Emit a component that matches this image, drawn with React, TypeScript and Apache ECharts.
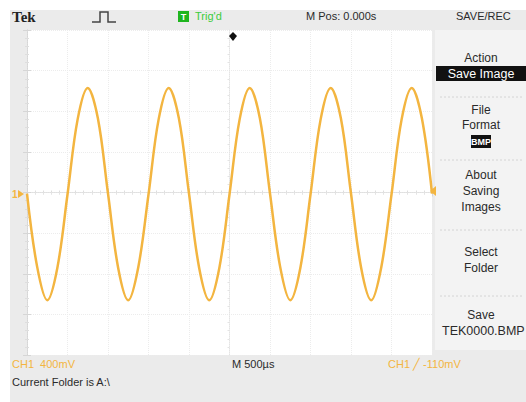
import React, { useEffect, useRef } from "react";
import * as echarts from "echarts";

// time in ms, 0.125 ms steps over 10 divisions of 500 µs
const timeMs: number[] = Array.from({ length: 41 }, (_, i) => i * 0.125);
// CH1 voltage (V)
const ch1Volts: number[] = [
  -0.01, -0.73, -1.06, -0.74, -0.02, 0.72, 1.03, 0.73,
  -0.01, -0.74, -1.06, -0.73, -0.02, 0.72, 1.03, 0.73,
  -0.01, -0.74, -1.06, -0.74, -0.02, 0.72, 1.03, 0.73,
  -0.01, -0.73, -1.06, -0.74, -0.02, 0.72, 1.03, 0.73,
  -0.01, -0.74, -1.06, -0.73, -0.02, 0.72, 1.03, 0.73,
  -0.01,
];
const menuItems: string[][] = [
  ["Action"],
  ["File", "Format"],
  ["About", "Saving", "Images"],
  ["Select", "Folder"],
  ["Save"],
];

const ORANGE = "#f3b540";
const FONT = "'Liberation Sans', Arial, sans-serif";

export default function App() {
  const ref = useRef<HTMLDivElement>(null);
  useEffect(() => {
    document.body.style.margin = "0";
    const chart = echarts.init(ref.current!, null, { renderer: "svg" });
    const txt = (x: number, y: number, text: string, extra: any = {}) => ({
      type: "text",
      x,
      y,
      z: 5,
      style: {
        text,
        fill: "#2a2a2a",
        font: `11px ${FONT}`,
        textVerticalAlign: "middle",
        ...extra,
      },
    });
    const menuY: number[][] = [[58], [110, 125], [175, 191, 207], [252, 268], [315]];
    const menuGraphics: any[] = [];
    menuItems.forEach((lines, i) =>
      lines.forEach((l, j) =>
        menuGraphics.push(
          txt(481, menuY[i][j], l, { textAlign: "center", font: `12px ${FONT}` })
        )
      )
    );
    const axisCommon = {
      type: "value",
      axisLabel: { show: false },
      splitLine: { show: false },
    };
    const xBase = { ...axisCommon, min: 0, max: 5, interval: 0.5 };
    const yBase = { ...axisCommon, min: -1.6, max: 1.6, interval: 0.4 };
    const tickStyle = {
      axisLine: { show: true, lineStyle: { color: "#d6d6d6", type: "dotted", width: 1 } },
      axisTick: { show: true, inside: true, length: 4, lineStyle: { color: "#d6d6d6" } },
      minorTick: { show: true, splitNumber: 5, length: 2, lineStyle: { color: "#dedede" } },
    };
    const centerLine = {
      show: true,
      onZero: false,
      lineStyle: { color: "#e4e4e4", type: "dotted" },
    };
    chart.setOption({
      animation: false,
      grid: { left: 27, top: 30, width: 405, height: 325, show: false },
      xAxis: [
        {
          ...xBase,
          position: "bottom",
          ...tickStyle,
          splitLine: { show: true, lineStyle: { color: "#ececec", type: "dotted" } },
        },
        { ...xBase, position: "top", ...tickStyle },
        {
          ...xBase,
          position: "bottom",
          offset: -162.5,
          ...tickStyle,
          axisTick: { show: false },
          minorTick: { show: true, splitNumber: 5, length: 2, lineStyle: { color: "#e4e4e4" } },
          axisLine: centerLine,
        },
      ],
      yAxis: [
        {
          ...yBase,
          position: "left",
          ...tickStyle,
          splitLine: { show: true, lineStyle: { color: "#ececec", type: "dotted" } },
        },
        { ...yBase, position: "right", ...tickStyle },
        {
          ...yBase,
          position: "left",
          offset: -202.5,
          ...tickStyle,
          axisTick: { show: false },
          minorTick: { show: true, splitNumber: 5, length: 2, lineStyle: { color: "#e4e4e4" } },
          axisLine: centerLine,
        },
      ],
      series: [
        {
          type: "line",
          xAxisIndex: 0,
          yAxisIndex: 0,
          data: timeMs.map((t, i) => [t, ch1Volts[i]]),
          smooth: 0.35,
          showSymbol: false,
          lineStyle: { color: ORANGE, width: 2.5 },
          z: 5,
        },
      ],
      graphic: [
        { type: "rect", z: -20, shape: { x: 10, y: 10, width: 516, height: 392 }, style: { fill: "#ebebeb" } },
        { type: "rect", z: -15, shape: { x: 27, y: 30, width: 405, height: 325 }, style: { fill: "#ffffff" } },
        { type: "rect", z: -15, shape: { x: 435, y: 30, width: 91, height: 320 }, style: { fill: "#f3f3f3" } },
        ...[97, 160, 230, 296].map((y) => ({
          type: "line",
          z: -10,
          shape: { x1: 440, y1: y, x2: 524, y2: y },
          style: { stroke: "#d4d4d4", lineWidth: 1, lineDash: [2, 2] },
        })),
        // header
        txt(12, 17, "Tek", { font: `bold 15px 'Liberation Serif', serif`, fill: "#222" }),
        {
          type: "polyline",
          z: 5,
          shape: { points: [[92, 22], [100, 22], [100, 12], [108, 12], [108, 22], [116, 22]] },
          style: { stroke: "#444", lineWidth: 1.5, fill: null },
        },
        { type: "rect", z: 5, shape: { x: 178, y: 11, width: 11, height: 11 }, style: { fill: "#1fb51f" } },
        txt(183.5, 16.5, "T", { fill: "#fff", font: `bold 9px ${FONT}`, textAlign: "center" }),
        txt(195, 16, "Trig'd", { fill: "#3bcc3b" }),
        txt(306, 16, "M Pos: 0.000s"),
        txt(456, 16, "SAVE/REC"),
        // trigger position marker
        {
          type: "polygon",
          z: 6,
          shape: { points: [[229, 36], [233, 32], [237, 36], [233, 41]] },
          style: { fill: "#111" },
        },
        // right menu
        ...menuGraphics,
        { type: "rect", z: 4, shape: { x: 436, y: 66, width: 90, height: 15 }, style: { fill: "#111" } },
        txt(481, 73.5, "Save Image", { fill: "#fff", textAlign: "center", font: `12.5px ${FONT}` }),
        { type: "rect", z: 4, shape: { x: 471, y: 135, width: 20, height: 13 }, style: { fill: "#111" } },
        txt(481, 141.5, "BMP", { fill: "#fff", textAlign: "center", font: `bold 9px ${FONT}` }),
        txt(442, 331, "TEK0000.BMP", { font: `12.5px ${FONT}` }),
        // channel markers
        txt(12, 194, "1", { fill: ORANGE, font: `bold 10px ${FONT}` }),
        { type: "polygon", z: 6, shape: { points: [[18, 190], [24, 194], [18, 198]] }, style: { fill: ORANGE } },
        { type: "polygon", z: 6, shape: { points: [[436, 186], [430, 191], [436, 196]] }, style: { fill: ORANGE } },
        // footer
        txt(12, 364, "CH1  400mV", { fill: ORANGE }),
        txt(232, 364, "M 500\u00b5s"),
        txt(388, 364, "CH1 \u2571 -110mV", { fill: ORANGE }),
        txt(12, 382, "Current Folder is A:\\"),
      ],
    });
    return () => chart.dispose();
  }, []);
  return <div ref={ref} style={{ width: 526, height: 402 }} />;
}
